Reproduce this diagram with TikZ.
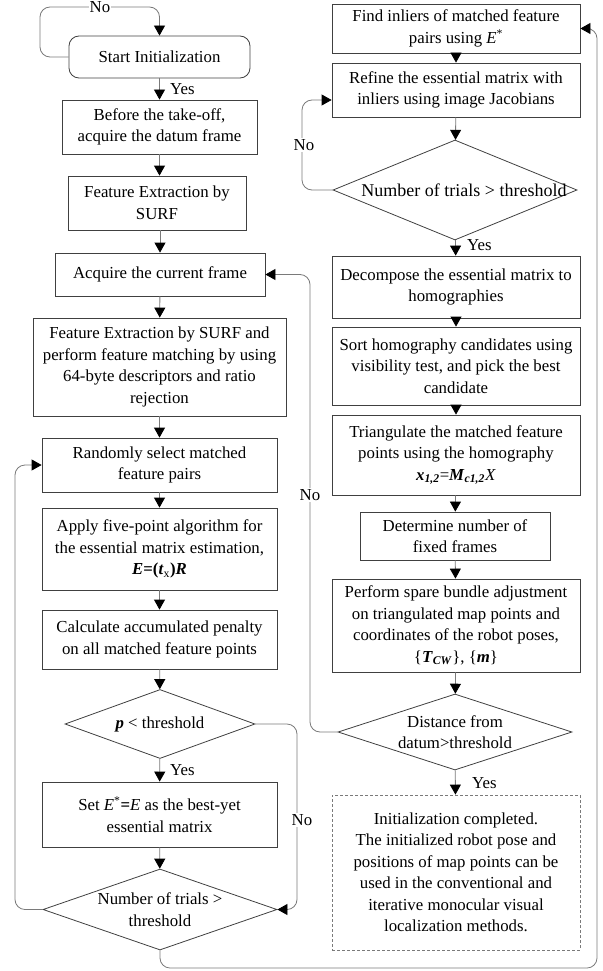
\documentclass[tikz,border=0pt]{standalone}
\usepackage{fontspec}
\setmainfont{Liberation Serif}
\usetikzlibrary{arrows.meta,shapes.geometric}
\definecolor{bord}{HTML}{404040}
\definecolor{lnc}{HTML}{7A7A7A}
\begin{document}
\begin{tikzpicture}[x=1pt,y=-1pt,font=\fontsize{16.8}{21.5}\selectfont,
  box/.style={draw=bord,line width=0.8pt,inner sep=0pt,align=center},
  dia/.style={draw=bord,line width=0.8pt,diamond,inner sep=0pt},
  dtext/.style={align=center,inner sep=0pt},
  conn/.style={draw=lnc,line width=0.8pt,rounded corners=10pt,-{Triangle[length=10pt,width=11pt,color=black]}},
  lab/.style={fill=white,inner sep=1pt}]
\useasboundingbox (0,0) rectangle (602,971);
% left column
\node[box,rounded corners=10pt,minimum width=181pt,minimum height=42pt] (start) at (159.5,57) {Start Initialization};
\node[box,minimum width=195pt,minimum height=54pt] (b2) at (159.5,127) {Before the take-off,\\acquire the datum frame};
\node[box,minimum width=178pt,minimum height=54pt] (b3) at (157,203) {Feature Extraction by\\SURF};
\node[box,minimum width=210pt,minimum height=43pt] (b4) at (160,274.5) {Acquire the current frame};
\node[box,minimum width=253pt,minimum height=98pt] (b5) at (159.5,367) {Feature Extraction by SURF and\\perform feature matching by using\\64-byte descriptors and ratio\\rejection};
\node[box,minimum width=235pt,minimum height=54pt] (b6) at (159.5,465) {Randomly select matched\\feature pairs};
\node[box,minimum width=235pt,minimum height=82pt] (b7) at (159.5,549) {Apply five-point algorithm for\\the essential matrix estimation,\\\textbf{\textit{E}=(\textit{t}\textsubscript{\normalfont x})\textit{R}}};
\node[box,minimum width=235pt,minimum height=59pt] (b8) at (159.5,639.5) {Calculate accumulated penalty\\on all matched feature points};
\node[dia,minimum width=190pt,minimum height=69pt] (d1) at (160,724) {};
\node[dtext] (d1t) at (d1) {\textbf{\textit{p}} < threshold};
\node[box,minimum width=235pt,minimum height=65pt] (b9) at (159.5,814.5) {Set \textit{E}\textsuperscript{*}\textbf{=}\textit{E} as the best-yet\\essential matrix};
\node[dia,minimum width=234pt,minimum height=81pt] (d2) at (160,909.5) {};
\node[dtext] (d2t) at (d2) {Number of trials >\\threshold};
% right column
\node[box,minimum width=248pt,minimum height=49pt] (r1) at (456,28.5) {Find inliers of matched feature\\pairs using \textit{E}\textsuperscript{*}};
\node[box,minimum width=248pt,minimum height=54pt] (r2) at (456,90) {Refine the essential matrix with\\inliers using image Jacobians};
\node[dia,minimum width=244pt,minimum height=100pt] (rd1) at (455,190) {};
\node[dtext,font=\fontsize{18}{21.5}\selectfont] (rd1t) at ([xshift=9pt]rd1.center) {Number of trials > threshold};
\node[box,minimum width=248pt,minimum height=62pt] (r3) at (456,287) {Decompose the essential matrix to\\homographies};
\node[box,minimum width=248pt,minimum height=78pt] (r4) at (456,366) {Sort homography candidates using\\visibility test, and pick the best\\candidate};
\node[box,minimum width=248pt,minimum height=80pt] (r5) at (456,455) {Triangulate the matched feature\\points using the homography\\\textbf{\textit{x}\textsubscript{\textit{1,2}}}=\textbf{\textit{M}\textsubscript{\textit{c1,2}}}\textit{X}};
\node[box,minimum width=190pt,minimum height=48pt] (r6) at (455,536) {Determine number of\\fixed frames};
\node[box,minimum width=248pt,minimum height=93pt] (r7) at (456,625.5) {Perform spare bundle adjustment\\on triangulated map points and\\coordinates of the robot poses,\\\{\textbf{\textit{T}\textsubscript{\textit{CW}}}\}, \{\textbf{\textit{m}}\}};
\node[dia,minimum width=234pt,minimum height=76pt] (rd2) at (455,732) {};
\node[dtext] (rd2t) at (rd2) {Distance from\\datum>threshold};
\node[box,draw=lnc,dashed,dash pattern=on 3pt off 2pt,minimum width=248pt,minimum height=155pt] (r8) at (456,872.5) {Initialization completed.\\The initialized robot pose and\\positions of map points can be\\used in the conventional and\\iterative monocular visual\\localization methods.};
% connectors left
\draw[conn] (start.west) -| (40,7) -| (start.north);
\draw[conn] (start) -- (b2);
\draw[conn] (b2) -- (b3.north -| b2.south);
\draw[conn] (b3.south -| b4.north) -- (b4);
\draw[conn] (b4) -- (b5);
\draw[conn] (b5) -- (b6);
\draw[conn] (b6) -- (b7);
\draw[conn] (b7) -- (b8);
\draw[conn] (b8) -- (d1);
\draw[conn] (d1) -- (b9);
\draw[conn] (b9) -- (d2);
\draw[conn] (d1.east) -| (297,800) |- (d2.east);
\draw[conn] (d2.west) -| (15,700) |- (b6.west);
\draw[conn] (d2.south) |- (597,968) |- (r1.east);
% connectors right
\draw[conn] (r1) -- (r2);
\draw[conn] (r2) -- (rd1);
\draw[conn] (rd1.west) -| (302,150) |- ([yshift=-10pt]r2.west);
\draw[conn] (rd1) -- (r3);
\draw[conn] (r3) -- (r4);
\draw[conn] (r4) -- (r5);
\draw[conn] (r5) -- (r6);
\draw[conn] (r6) -- (r7);
\draw[conn] (r7) -- (rd2);
\draw[conn] (rd2) -- (r8);
\draw[conn] (rd2.west) -| (310,500) |- (b4.east);
% labels
\node[lab] (n1) at (100,7) {No};
\node[inner sep=0pt,anchor=west] (y1) at (170,89) {Yes};
\node[inner sep=0pt,anchor=west] (y2) at (170,770) {Yes};
\node[lab] (n2) at (302,820) {No};
\node[lab] (n3) at (304,145) {No};
\node[inner sep=0pt,anchor=west] (y3) at (467,245) {Yes};
\node[lab] (n4) at (310,495) {No};
\node[inner sep=0pt,anchor=west] (y4) at (472,783) {Yes};
\end{tikzpicture}
\end{document}
